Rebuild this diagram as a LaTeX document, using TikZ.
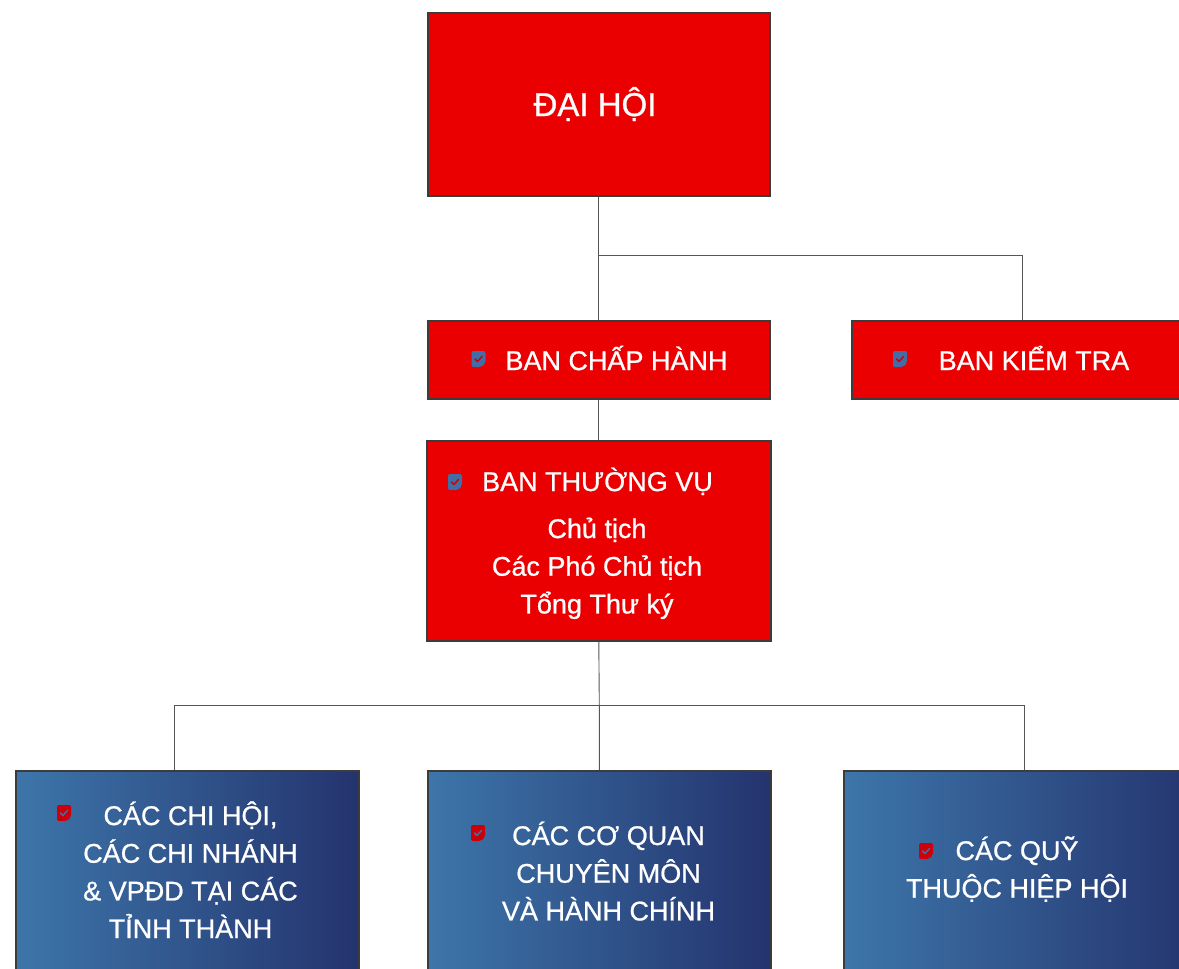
\documentclass[tikz,border=0pt]{standalone}
\usepackage{fontspec}
\setmainfont{Liberation Sans}
\newfontfamily\lblfont{Liberation Sans}[RawFeature={embolden=0.8}]
\usetikzlibrary{calc}
\definecolor{boxred}{RGB}{234,0,0}
\definecolor{boxedge}{RGB}{60,60,60}
\definecolor{blueL}{RGB}{61,118,170}
\definecolor{blueR}{RGB}{36,51,110}
\definecolor{tickblue}{RGB}{66,110,165}
\definecolor{tickred}{RGB}{205,0,10}
\definecolor{wire}{RGB}{85,85,85}
\def\tickbox(#1)[#2][#3]{%
  \fill[#2, rounded corners=2pt] ($(#1)+(-7,-8)$) -- ($(#1)+(7,-8)$) -- ($(#1)+(7,4)$) -- ($(#1)+(3,8)$) -- ($(#1)+(-7,8)$) -- cycle;
  \draw[#3, line width=1.5pt, line cap=round, line join=round] ($(#1)+(-3.5,0)$) -- ($(#1)+(-1,2.5)$) -- ($(#1)+(3.5,-2.5)$);}
\tikzset{
  redbox/.style={draw=boxedge, line width=1.6pt, fill=boxred, anchor=north west, inner sep=0pt},
  bluebox/.style={draw=boxedge, line width=1.6pt, left color=blueL, right color=blueR, anchor=north west, inner sep=0pt},
  lbl/.style={text=white, font=\lblfont\fontsize{27}{32}\selectfont, anchor=base, inner sep=0pt},
  wireline/.style={draw=wire, line width=0.9pt}
}
\begin{document}
\begin{tikzpicture}[x=1pt, y=-1pt]
  \useasboundingbox (0,0) rectangle (1179,969);
  \clip (0,0) rectangle (1179,969);
  %%%%% BOXES %%%%%
  \node[redbox, minimum width=342, minimum height=183] (dh) at (427,12) {};
  \node[redbox, minimum width=342, minimum height=78] (ch) at (427,320) {};
  \node[redbox, minimum width=342, minimum height=78] (kt) at (851,320) {};
  \node[redbox, minimum width=344, minimum height=200] (tv) at (426,440) {};
  \node[bluebox, minimum width=343, minimum height=220] (b1) at (15,770) {};
  \node[bluebox, minimum width=343, minimum height=220] (b2) at (427,770) {};
  \node[bluebox, minimum width=362, minimum height=220] (b3) at (843,770) {};
  %%%%% LINKS %%%%%
  \draw[wireline] (dh.south) -- (ch.north);
  \path (dh.south) ++(0,59) coordinate (fork1);
  \draw[wireline] (fork1) -| (kt.north);
  \draw[wireline] (ch.south) -- (tv.north);
  \path (tv.south) ++(0,64) coordinate (fork2);
  \draw[wireline] (tv.south) -- (fork2 -| b2.north) -- (b2.north);
  \draw[wireline] (fork2) -| ([xshift=-12.5pt]b1.north);
  \draw[wireline] (fork2) -| (b3.north);
  %%%%% TEXT %%%%%
  \node[lbl, font=\lblfont\fontsize{33}{38}\selectfont] (dhT) at (595,116) {ĐẠI HỘI};
  \node[lbl] (chT) at (616.5,370) {BAN CHẤP HÀNH};
  \node[lbl] (ktT) at (1034,370) {BAN KIỂM TRA};
  \node[lbl] (tvT) at (597.5,491) {BAN THƯỜNG VỤ};
  \foreach \t [count=\i] in {Chủ tịch, Các Phó Chủ tịch, Tổng Thư ký}
    \node[lbl] (tv\i) at (597, 538+37.7*\i-37.7) {\t};
  \foreach \t [count=\i] in {{CÁC CHI HỘI,}, CÁC CHI NHÁNH, {\& VPĐD TẠI CÁC}, TỈNH THÀNH}
    \node[lbl] (bl\i) at (190.5, 825+37.7*\i-37.7) {\t};
  \foreach \t [count=\i] in {CÁC CƠ QUAN, CHUYÊN MÔN, VÀ HÀNH CHÍNH}
    \node[lbl] (bm\i) at (608.5, 845+37.7*\i-37.7) {\t};
  \foreach \t [count=\i] in {CÁC QUỸ, THUỘC HIỆP HỘI}
    \node[lbl] (br\i) at (1017, 860+37.7*\i-37.7) {\t};
  %%%%% TICKS %%%%%
  \tickbox(478.5,359)[tickblue][tickred]
  \tickbox(900,359)[tickblue][tickred]
  \tickbox(455,482)[tickblue][tickred]
  \tickbox(64,813)[tickred][tickblue]
  \tickbox(478,833)[tickred][tickblue]
  \tickbox(926,851)[tickred][tickblue]
\end{tikzpicture}
\end{document}
